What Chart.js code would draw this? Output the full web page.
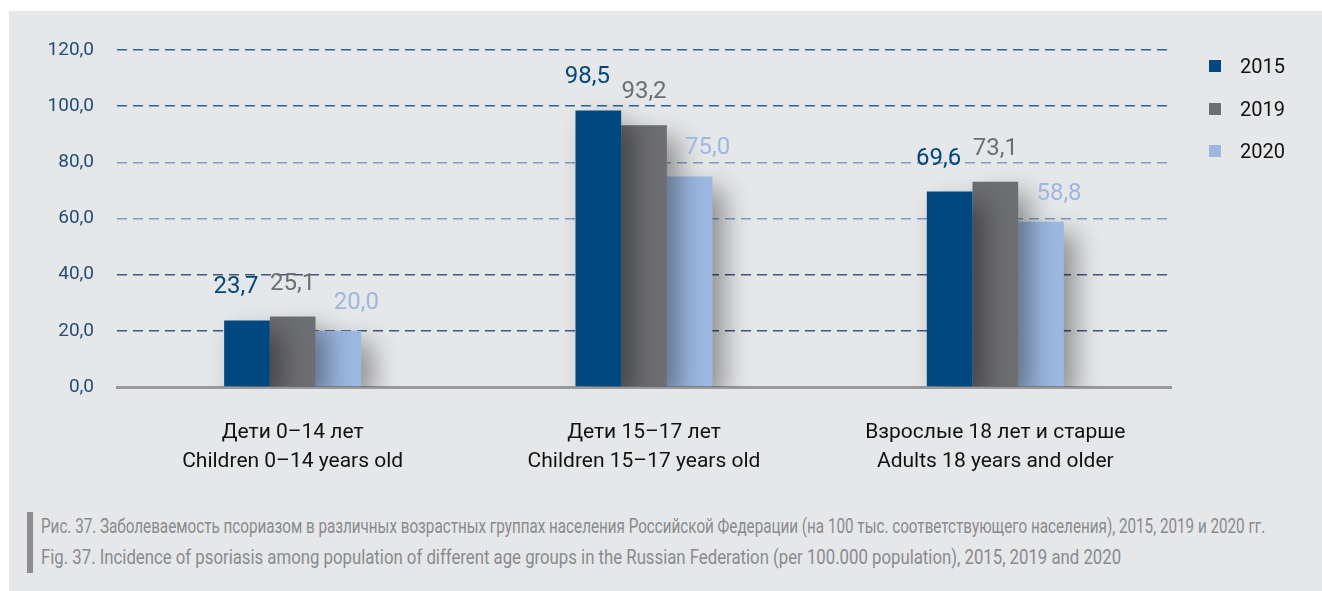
<!DOCTYPE html>
<html lang="ru">
<head>
  <meta charset="UTF-8" />
  <title>Заболеваемость псориазом</title>
  <style>
    body {
      margin: 0;
      width: 1322px;
      height: 591px;
      position: relative;
      overflow: hidden;
      background: #fff;
      font-family: Roboto, sans-serif;
    }
    .panel {
      position: absolute;
      left: 9px; top: 11px; right: 0; bottom: 0;
      background: #e6e7e9;
    }
    #chart { position: absolute; left: 0; top: 0; }
    .legend { position: absolute; left: 1209px; top: 45px; }
    .legend .item { height: 42.5px; display: flex; align-items: center; font-size: 20px; color: #111; }
    .legend .box { width: 12px; height: 12px; margin-right: 19px; }
    .caption {
      position: absolute; left: 27px; top: 512px; height: 61px;
      border-left: 6px solid #8e8e90;
    }
    .caption .line {
      position: absolute; left: 8px;
      color: #8a8a8d;
      font-size: 20px;
      line-height: 28px;
      white-space: nowrap;
      transform-origin: 0 0;
    }
  </style>
  <script src="https://cdn.jsdelivr.net/npm/chart.js"></script>
</head>
<body>
  <div class="panel"></div>
  <canvas id="chart" width="1322" height="480"></canvas>
  <div class="legend" id="legend"></div>
  <div class="caption">
    <div class="line" style="top:0px" data-w="1224">Рис. 37. Заболеваемость псориазом в различных возрастных группах населения Российской Федерации (на 100 тыс. соответствующего населения), 2015, 2019 и 2020 гг.</div>
    <div class="line" style="top:31px" data-w="1080">Fig. 37. Incidence of psoriasis among population of different age groups in the Russian Federation (per 100.000 population), 2015, 2019 and 2020</div>
  </div>

  <script>
    // data
    const categories = [
      ['Дети 0–14 лет', 'Children 0–14 years old'],
      ['Дети 15–17 лет', 'Children 15–17 years old'],
      ['Взрослые 18 лет и старше', 'Adults 18 years and older']
    ];
    const years = ['2015', '2019', '2020'];
    const values2015 = [23.7, 98.5, 69.6];
    const values2019 = [25.1, 93.2, 73.1];
    const values2020 = [20.0, 75.0, 58.8];
    const yTicks = [0, 20, 40, 60, 80, 100, 120];

    const colors = ['#00487f', '#6d6e71', '#9cb8e0'];
    // where the value labels sit relative to the top of each bar
    const labelShift = [{ dx: -11, dy: -33 }, { dx: 0, dy: -33 }, { dx: 18, dy: -28 }];
    const FONT = 'Roboto, sans-serif';

    const fmt = v => v.toFixed(1).replace('.', ',');

    // caption is set in a condensed face in the original; squeeze each line to its width
    document.querySelectorAll('.caption .line').forEach(el => {
      el.style.transform = `scaleX(${el.dataset.w / el.scrollWidth})`;
    });

    // legend
    const legendDiv = document.getElementById('legend');
    years.forEach((y, i) => {
      legendDiv.innerHTML += `<div class="item"><span class="box" style="background:${colors[i]}"></span>${y}</div>`;
    });

    function gridColor(v) {
      if (v === 0) return 'rgba(0,0,0,0)';
      if (v === 60 || v === 80) return '#7f9dbf';
      if (v === 20 || v === 40) return '#3f5878';
      return '#2f5f97';
    }

    const barLook = {
      id: 'barLook',
      beforeDatasetsDraw(chart) {
        const ctx = chart.ctx;
        ctx.save();
        ctx.shadowColor = 'rgba(0,0,0,0.38)';
        ctx.shadowBlur = 26;
        ctx.shadowOffsetX = 12;
        ctx.shadowOffsetY = 12;
      },
      afterDatasetsDraw(chart) {
        const ctx = chart.ctx;
        ctx.restore();
        ctx.save();
        ctx.font = '24px ' + FONT;
        ctx.textAlign = 'center';
        ctx.textBaseline = 'middle';
        chart.data.datasets.forEach((ds, i) => {
          const meta = chart.getDatasetMeta(i);
          ctx.fillStyle = ds.backgroundColor;
          meta.data.forEach((bar, j) => {
            ctx.fillText(fmt(ds.data[j]), bar.x + labelShift[i].dx, bar.y + labelShift[i].dy);
          });
        });
        ctx.restore();
      }
    };

    new Chart(document.getElementById('chart'), {
      type: 'bar',
      data: {
        labels: categories,
        datasets: [values2015, values2019, values2020].map((vals, i) => ({
          label: years[i],
          data: vals,
          backgroundColor: colors[i],
          categoryPercentage: 0.39,
          barPercentage: 1.0
        }))
      },
      options: {
        responsive: false,
        animation: false,
        layout: { padding: { top: 50, right: 151, left: 0, bottom: 0 } },
        plugins: { legend: { display: false }, tooltip: { enabled: false } },
        scales: {
          x: {
            grid: { display: false },
            border: { display: true, color: '#9a9a9e', width: 3 },
            ticks: {
              color: '#111',
              padding: 24,
              font: { family: FONT, size: 21, lineHeight: 1.35 }
            },
            afterFit(scale) { scale.height = 93; }
          },
          y: {
            min: 0,
            max: 120,
            afterBuildTicks(scale) { scale.ticks = yTicks.map(v => ({ value: v })); },
            grid: {
              drawTicks: false,
              lineWidth: 1.5,
              color: ctx => gridColor(ctx.tick ? ctx.tick.value : 0)
            },
            border: { display: false, dash: [10, 6] },
            ticks: {
              color: '#1f4e7e',
              padding: 23,
              font: { family: FONT, size: 19 },
              callback: v => fmt(v)
            },
            afterFit(scale) { scale.width = 117; }
          }
        }
      },
      plugins: [barLook]
    });
  </script>
</body>
</html>
